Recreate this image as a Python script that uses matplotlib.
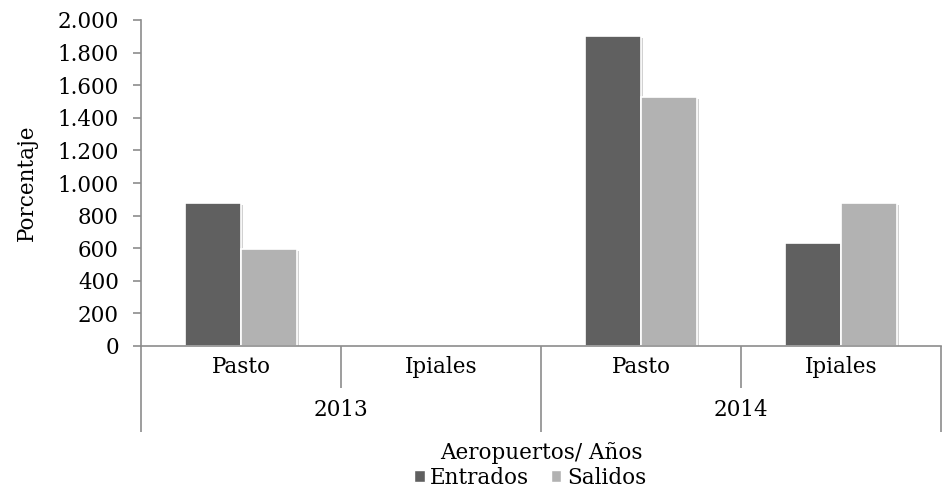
import matplotlib.pyplot as plt
import matplotlib.patheffects as pe
from matplotlib.patches import Patch
import numpy as np
from matplotlib.ticker import FuncFormatter, FixedLocator

plt.rcParams['font.family'] = ['DejaVu Serif']

years = ["2013", "2014"]
airports = ["Pasto", "Ipiales", "Pasto", "Ipiales"]
entrados = [880, 0, 1900, 632]
salidos = [595, 0, 1530, 880]

dark = "#606060"
light = "#b2b2b2"
axis_grey = "#8c8c8c"
fs = 15.5

fig = plt.figure(figsize=(9.42, 4.99), dpi=100)
ax = fig.add_axes([141/942, 153/499, 800/942, 326/499])

x = np.arange(len(airports)) + 0.5
w = 0.28
shadow = [pe.SimplePatchShadow(offset=(1.5, -1.5), shadow_rgbFace="#000000", alpha=0.18), pe.Normal()]
b1 = ax.bar(x - w/2, entrados, w, color=dark, edgecolor="white", linewidth=1.2)
b2 = ax.bar(x + w/2, salidos, w, color=light, edgecolor="white", linewidth=1.2)
for bar in list(b1) + list(b2):
    if bar.get_height() > 0:
        bar.set_path_effects(shadow)

ax.set_xlim(0, 4)
ax.set_ylim(0, 2000)
ax.set_yticks(np.arange(0, 2001, 200))
ax.yaxis.set_major_formatter(FuncFormatter(lambda v, p: f"{v:,.0f}".replace(",", ".")))
ax.tick_params(axis="y", labelsize=fs, length=6, color=axis_grey, width=1.2, pad=10)

for s in ["top", "right"]:
    ax.spines[s].set_visible(False)
for s in ["left", "bottom"]:
    ax.spines[s].set_color(axis_grey)
    ax.spines[s].set_linewidth(1.2)

# hierarchical category axis: long ticks act as separators
ax.xaxis.set_major_locator(FixedLocator([0, 2, 4]))
ax.xaxis.set_minor_locator(FixedLocator([1, 3]))
ax.tick_params(axis="x", which="major", length=62, color=axis_grey, width=1.2, labelbottom=False)
ax.tick_params(axis="x", which="minor", length=30, color=axis_grey, width=1.2, labelbottom=False)

trans = ax.get_xaxis_transform()
for xi, name in zip(x, airports):
    ax.text(xi, -0.064, name, transform=trans, ha="center", va="center", fontsize=fs)
for i, yr in enumerate(years):
    ax.text(2*i + 1, -0.196, yr, transform=trans, ha="center", va="center", fontsize=fs)

fig.text(541/942, 1 - 453/499, "Aeropuertos/ Años", ha="center", va="center", fontsize=fs)
ax.set_ylabel("Porcentaje", fontsize=fs, labelpad=14)

handles = [Patch(facecolor=dark, edgecolor="white"), Patch(facecolor=light, edgecolor="white")]
fig.legend(handles=handles, labels=["Entrados", "Salidos"], loc="center",
           bbox_to_anchor=(530/942, 1 - 478/499), ncol=2, frameon=False, fontsize=fs,
           handlelength=0.5, handleheight=0.5, handletextpad=0.25, columnspacing=1.0,
           borderpad=0.1)

fig.savefig("out.png", dpi=100)
